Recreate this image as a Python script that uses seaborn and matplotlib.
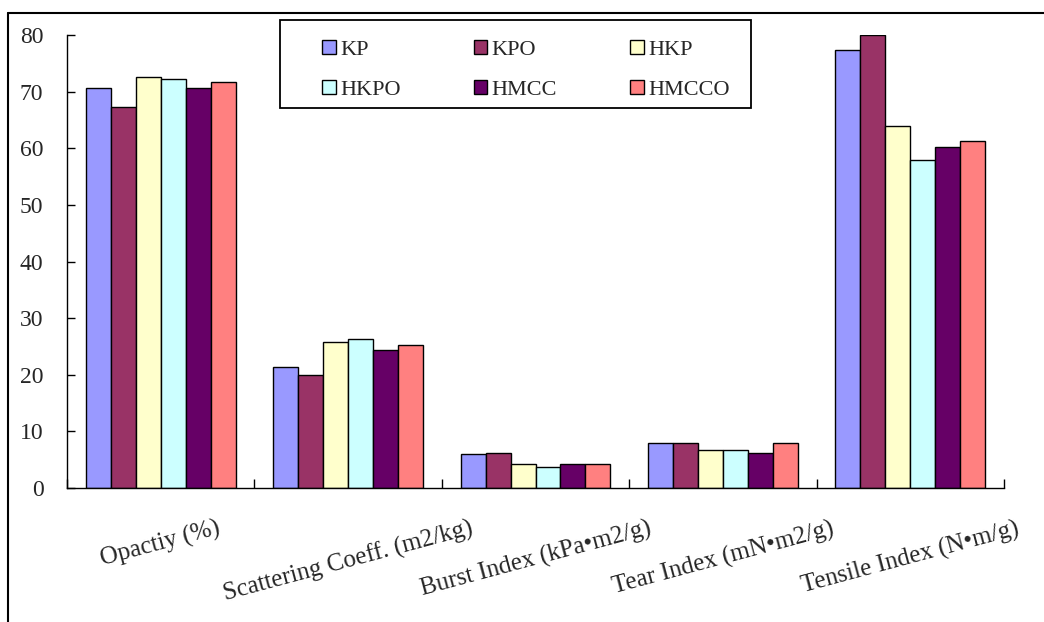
import numpy as np
import pandas as pd
import matplotlib
matplotlib.use("Agg")
import matplotlib.pyplot as plt
from matplotlib.patches import Patch, Rectangle
from matplotlib.lines import Line2D
import seaborn as sns

categories = ["Opactiy (%)", "Scattering Coeff. (m2/kg)", "Burst Index (kPa\u2022m2/g)",
              "Tear Index (mN\u2022m2/g)", "Tensile Index (N\u2022m/g)"]
series_names = ["KP", "KPO", "HKP", "HKPO", "HMCC", "HMCCO"]
kp = [70.7, 21.3, 6.0, 7.9, 77.3]
kpo = [67.2, 20.0, 6.2, 7.9, 80.0]
hkp = [72.5, 25.8, 4.2, 6.7, 63.9]
hkpo = [72.2, 26.3, 3.7, 6.7, 57.9]
hmcc = [70.7, 24.4, 4.3, 6.2, 60.2]
hmcco = [71.7, 25.3, 4.3, 7.9, 61.2]
colors = ["#9999FF", "#993366", "#FFFFCC", "#CCFFFF", "#660066", "#FF8080"]
y_ticks = [0, 10, 20, 30, 40, 50, 60, 70, 80]

series_values = [kp, kpo, hkp, hkpo, hmcc, hmcco]
rows = []
for name, vals in zip(series_names, series_values):
    for cat, v in zip(categories, vals):
        rows.append({"category": cat, "series": name, "value": v})
df = pd.DataFrame(rows)

sns.set_style("ticks")
plt.rcParams["font.family"] = ["Liberation Serif", "DejaVu Serif"]

W, H = 1044, 622
fig = plt.figure(figsize=(W / 100, H / 100), dpi=100)
ax = fig.add_axes([67 / W, 1 - 488 / H, (1004 - 67) / W, (488 - 35) / H])

palette = dict(zip(series_names, colors))
sns.barplot(data=df, x="category", y="value", hue="series", order=categories,
            hue_order=series_names, palette=palette, edgecolor="black",
            linewidth=1.0, width=0.8, saturation=1, legend=False, ax=ax, errorbar=None)

ax.set_xlim(-0.5, len(categories) - 0.5)
ax.set_ylim(0, 80)
ax.set_yticks(y_ticks)
ax.set_yticklabels([str(t) for t in y_ticks], fontsize=17)
ax.set_xticks(range(len(categories)))
ax.set_xticklabels(categories, rotation=15, ha="center", va="top", fontsize=18,
                   rotation_mode="default")
ax.set_xticks(np.arange(-0.5, len(categories), 1), minor=True)
ax.tick_params(axis="x", which="major", length=0, pad=21)
ax.tick_params(axis="x", which="minor", length=6.5, direction="in", width=1, color="black")
ax.tick_params(axis="y", which="major", length=5.5, direction="in", width=1, pad=17,
               color="black")
ax.set_xlabel("")
ax.set_ylabel("")
for s in ["top", "right"]:
    ax.spines[s].set_visible(False)
for s in ["left", "bottom"]:
    ax.spines[s].set_color("black")
    ax.spines[s].set_linewidth(1.0)

# legend (row-major order: matplotlib fills columns first)
handles = [Patch(facecolor=c, edgecolor="black", linewidth=1.0) for c in colors]
ncol = 3
nrow = 2
order = [r * ncol + c for c in range(ncol) for r in range(nrow)]
fig.patches.append(Rectangle((280 / W, 1 - 108 / H), (751 - 280) / W, (108 - 20) / H,
                             transform=fig.transFigure, facecolor="white",
                             edgecolor="black", linewidth=1.3, zorder=5))
leg = fig.legend([handles[i] for i in order], [series_names[i] for i in order],
                 ncol=ncol, loc="center",
                 bbox_to_anchor=(526 / W, 1 - 70 / H), frameon=False,
                 fontsize=16, handlelength=0.6, handleheight=0.6, handletextpad=0.2,
                 columnspacing=3.3, labelspacing=0.9, borderpad=0)
leg.set_zorder(6)

# outer frame lines
fig.add_artist(Line2D([8 / W, 1.0], [1 - 13 / H, 1 - 13 / H], transform=fig.transFigure,
                      color="black", linewidth=1.5))
fig.add_artist(Line2D([8 / W, 8 / W], [0, 1 - 13 / H], transform=fig.transFigure,
                      color="black", linewidth=1.5))

fig.savefig("out.png", dpi=100)
